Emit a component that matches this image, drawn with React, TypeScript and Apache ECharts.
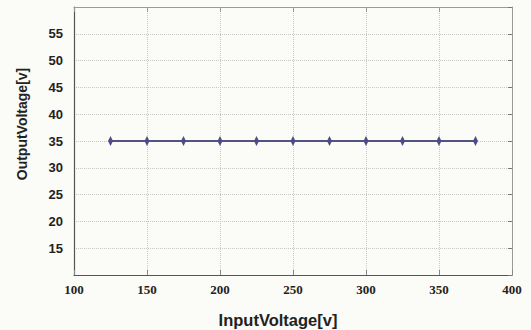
import React, { useEffect, useRef } from "react";
import * as echarts from "echarts";

const inputVoltage = [125, 150, 175, 200, 225, 250, 275, 300, 325, 350, 375];
const outputVoltage = [35, 35, 35, 35, 35, 35, 35, 35, 35, 35, 35];
const xTicks = { min: 100, max: 400, interval: 50 };
const yTicks = { min: 10, max: 60, interval: 5 };
const xName = "InputVoltage[v]";
const yName = "OutputVoltage[v]";

export default function App() {
  const ref = useRef<HTMLDivElement>(null);

  useEffect(() => {
    if (!ref.current) return;
    const chart = echarts.init(ref.current, null, { renderer: "svg" });
    const gridLine = { show: true, lineStyle: { color: "#c8c8c8", type: "dotted" as const, width: 1 } };
    const frameLine = { show: true, lineStyle: { color: "#555", width: 1.2 } };
    const sideLine = { show: true, lineStyle: { color: "#999", width: 1 } };
    const nameFont = { fontFamily: "Liberation Sans, Arial", fontWeight: "bold" as const, fill: "#222" };
    chart.setOption({
      animation: false,
      backgroundColor: "#fbfbf7",
      grid: { left: 74, right: 19, top: 7, bottom: 55, containLabel: false },
      graphic: [
        {
          type: "text",
          x: 278,
          y: 320,
          style: { ...nameFont, text: xName, fontSize: 16.5, align: "center", verticalAlign: "middle" },
        },
        {
          type: "text",
          x: 22,
          y: 124,
          rotation: Math.PI / 2,
          style: { ...nameFont, text: yName, fontSize: 14, align: "center", verticalAlign: "middle" },
        },
      ],
      xAxis: [
        {
          type: "value",
          min: xTicks.min,
          max: xTicks.max,
          interval: xTicks.interval,
          axisLine: frameLine,
          axisTick: { show: true, inside: true, length: 5, lineStyle: { color: "#888" } },
          axisLabel: { fontFamily: "Liberation Serif, Times New Roman", fontWeight: "bold", fontSize: 13, color: "#222", margin: 8 },
          splitLine: gridLine,
        },
        {
          type: "value",
          position: "top",
          min: xTicks.min,
          max: xTicks.max,
          interval: xTicks.interval,
          axisLine: sideLine,
          axisTick: { show: true, inside: true, length: 5, lineStyle: { color: "#999" } },
          axisLabel: { show: false },
          splitLine: { show: false },
        },
      ],
      yAxis: [
        {
          type: "value",
          min: yTicks.min,
          max: yTicks.max,
          interval: yTicks.interval,
          axisLine: frameLine,
          axisTick: { show: false },
          axisLabel: {
            fontFamily: "Liberation Sans, Arial",
            fontWeight: "bold",
            fontSize: 13,
            color: "#222",
            margin: 11,
            formatter: (v: number) => (v === yTicks.min || v === yTicks.max ? "" : String(v)),
          },
          splitLine: gridLine,
        },
        {
          type: "value",
          position: "right",
          min: yTicks.min,
          max: yTicks.max,
          interval: yTicks.interval,
          axisLine: sideLine,
          axisTick: { show: true, inside: true, length: 4, lineStyle: { color: "#777" } },
          axisLabel: { show: false },
          splitLine: { show: false },
        },
      ],
      series: [
        {
          type: "line",
          data: inputVoltage.map((x, i) => [x, outputVoltage[i]]),
          lineStyle: { color: "#54527f", width: 2 },
          itemStyle: { color: "#4e4c86" },
          symbol: "diamond",
          symbolSize: [5, 10],
          showSymbol: true,
        },
      ],
    });
    return () => chart.dispose();
  }, []);

  return <div ref={ref} style={{ width: 531, height: 330, position: "absolute", left: 0, top: 0 }} />;
}
